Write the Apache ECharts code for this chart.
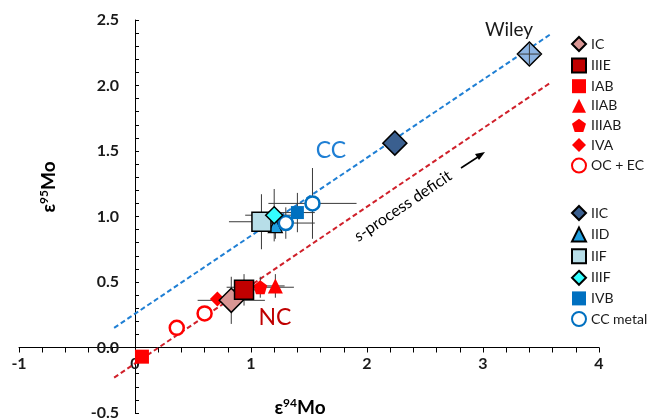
<!DOCTYPE html>
<html><head><meta charset="utf-8">
<script src="https://cdn.jsdelivr.net/npm/echarts@6/dist/echarts.min.js"></script>
<style>html,body{margin:0;padding:0;background:#fff}#c{width:657px;height:420px}</style>
</head><body><div id="c"></div>
<script>
// ---- data (ε94Mo, ε95Mo) ----
const icData = [[0.83, 0.36]];
const iiieData = [[0.94, 0.44]];
const iabData = [[0.06, -0.07]];
const iiabData = [[1.21, 0.47]];
const iiiabData = [[1.08, 0.46]];
const ivaData = [[0.71, 0.37]];
const ocecData = [[0.36, 0.15], [0.60, 0.26]];
const iicData = [[2.24, 1.56]];
const iidData = [[1.21, 0.93]];
const iifData = [[1.09, 0.96]];
const iiifData = [[1.20, 1.01]];
const ivbData = [[1.40, 1.03]];
const ccMetalData = [[1.30, 0.95], [1.53, 1.10]];
const wileyData = [[3.40, 2.24]];
// error bars: [x, y, xErr, yErr]
const errorBars = [
  [0.83, 0.36, 0.29, 0.18],
  [0.94, 0.44, 0.10, 0.12],
  [1.08, 0.46, 0.29, 0.08],
  [1.21, 0.47, 0.08, 0.09],
  [1.09, 0.96, 0.28, 0.21],
  [1.20, 1.01, 0.25, 0.20],
  [1.21, 0.93, 0.10, 0.10],
  [1.30, 0.95, 0.25, 0.12],
  [1.40, 1.03, 0.15, 0.15],
  [1.53, 1.10, 0.38, 0.27]
];
const wileyErr = [[3.40, 2.24, 0.10, 0.08]];
// trend lines
const ccLine = [[-0.18, 0.15], [3.58, 2.39]];
const ncLine = [[-0.18, -0.23], [3.58, 2.02]];
const ncNames = ['IC', 'IIIE', 'IAB', 'IIAB', 'IIIAB', 'IVA', 'OC + EC'];
const ccNames = ['IIC', 'IID', 'IIF', 'IIIF', 'IVB', 'CC metal'];

const FONT = 'Lato';
const pentagon = 'path://M0,-1 L0.951,-0.309 L0.588,0.809 L-0.588,0.809 L-0.951,-0.309 Z';

function sc(name, data, symbol, size, color, border, bw, extra) {
  return Object.assign({
    type: 'scatter', name: name, data: data, symbol: symbol, symbolSize: size,
    itemStyle: { color: color, borderColor: border || color, borderWidth: border ? (bw || 1.5) : 0, opacity: 1 },
    emphasis: { disabled: true }, z: 3
  }, extra || {});
}
function errRender(params, api) {
  const x = api.value(0), y = api.value(1), ex = api.value(2), ey = api.value(3);
  const l = api.coord([x - ex, y]), r = api.coord([x + ex, y]);
  const t = api.coord([x, y + ey]), b = api.coord([x, y - ey]);
  const st = { stroke: '#3a3a3a', lineWidth: 1 };
  return { type: 'group', children: [
    { type: 'line', shape: { x1: l[0], y1: l[1], x2: r[0], y2: r[1] }, style: st },
    { type: 'line', shape: { x1: t[0], y1: t[1], x2: b[0], y2: b[1] }, style: st }
  ]};
}

const chart = echarts.init(document.getElementById('c'), null, { renderer: 'canvas' });
const axisLabelStyle = { fontFamily: FONT, fontWeight: 'bold', fontSize: 16, color: '#1a1a1a' };
const legendBase = {
  orient: 'vertical', left: 566, itemWidth: 14, itemHeight: 14, itemGap: 5.6,
  selectedMode: false, textStyle: { fontFamily: FONT, fontSize: 14, color: '#1a1a1a' }
};
chart.setOption({
  animation: false,
  backgroundColor: '#fff',
  grid: { left: 19, right: 58, top: 20, bottom: 7, containLabel: false, outerBoundsMode: 'none' },
  xAxis: {
    type: 'value', min: -1, max: 4, interval: 1, position: 'bottom', offset: 0,
    axisLine: { onZero: false, lineStyle: { color: '#000', width: 1 } },
    axisTick: { show: true, inside: false, length: 5, lineStyle: { color: '#000' } },
    minorTick: { show: true, splitNumber: 5, length: 5, lineStyle: { color: '#000' } },
    splitLine: { show: false },
    axisLabel: Object.assign({ margin: 8 }, axisLabelStyle)
  },
  yAxis: {
    type: 'value', min: -0.5, max: 2.5, interval: 0.5, position: 'left', offset: 0,
    axisLine: { onZero: false, lineStyle: { color: '#000', width: 1 } },
    axisTick: { show: true, inside: true, length: 4, lineStyle: { color: '#000' } },
    minorTick: { show: true, splitNumber: 5, length: 4, lineStyle: { color: '#000' } },
    splitLine: { show: false },
    axisLabel: Object.assign({ margin: 16, formatter: v => v.toFixed(1) }, axisLabelStyle)
  },
  legend: [
    Object.assign({ top: 31, data: ncNames }, legendBase),
    Object.assign({ top: 200, data: ccNames }, legendBase)
  ],
  series: [
    { type: 'line', data: ccLine, showSymbol: false, symbol: 'none', silent: true, z: 1,
      lineStyle: { color: '#1f7fd4', width: 2, type: [5, 3] } },
    { type: 'line', data: ncLine, showSymbol: false, symbol: 'none', silent: true, z: 1,
      lineStyle: { color: '#d0202a', width: 2, type: [5, 3] } },
    { type: 'custom', data: errorBars, renderItem: errRender, encode: { x: 0, y: 1 }, z: 2, silent: true },
    sc('IAB', iabData, 'rect', 14, '#ff0000'),
    sc('OC + EC', ocecData, 'circle', 14, '#ffffff', '#ff0000', 2.5),
    sc('IVA', ivaData, 'diamond', 15, '#ff0000'),
    sc('IIAB', iiabData, 'triangle', 15, '#ff0000'),
    sc('IIIAB', iiiabData, pentagon, 14, '#ff0000'),
    sc('IC', icData, 'diamond', 24, '#d99694', '#000', 1.5),
    sc('IIIE', iiieData, 'rect', 19, '#c00000', '#000', 1.5),
    sc('IVB', ivbData, 'rect', 13, '#0070c0'),
    sc('IID', iidData, 'triangle', 14, '#1f9fe0', '#000', 1.2),
    sc('CC metal', ccMetalData, 'circle', 14, '#ffffff', '#0070c0', 2.5),
    sc('IIF', iifData, 'rect', 19, '#b7dee8', '#000', 1.5),
    sc('IIIF', iiifData, 'diamond', 17, '#33ffff', '#000', 1.5),
    sc('IIC', iicData, 'diamond', 24, '#3a5f8f', '#000', 1.5),
    sc('Wiley', wileyData, 'diamond', 24, '#8db4e2', '#000', 1.5),
    { type: 'custom', data: wileyErr, renderItem: errRender, encode: { x: 0, y: 1 }, z: 4, silent: true }
  ],
  graphic: [
    { type: 'text', x: 49, y: 187, rotation: Math.PI / 2, z: 10,
      style: { text: '{a|ε}{s|95}{a|Mo}', align: 'center', verticalAlign: 'middle',
        rich: { a: { fontFamily: FONT, fontWeight: 'bold', fontSize: 19, color: '#000', lineHeight: 22 },
                s: { fontFamily: FONT, fontWeight: 'bold', fontSize: 12, color: '#000', verticalAlign: 'top', lineHeight: 22 } } } },
    { type: 'text', x: 300, y: 408, z: 10,
      style: { text: '{a|ε}{s|94}{a|Mo}', align: 'center', verticalAlign: 'middle',
        rich: { a: { fontFamily: FONT, fontWeight: 'bold', fontSize: 19, color: '#000', lineHeight: 22 },
                s: { fontFamily: FONT, fontWeight: 'bold', fontSize: 12, color: '#000', verticalAlign: 'top', lineHeight: 22 } } } },
    { type: 'text', x: 509, y: 30, z: 10,
      style: { text: 'Wiley', align: 'center', verticalAlign: 'middle', fontFamily: FONT, fontSize: 19, fill: '#1a1a1a' } },
    { type: 'text', x: 331, y: 151, z: 10,
      style: { text: 'CC', align: 'center', verticalAlign: 'middle', fontFamily: FONT, fontSize: 23, fill: '#1f7fd4' } },
    { type: 'text', x: 275, y: 318, z: 10,
      style: { text: 'NC', align: 'center', verticalAlign: 'middle', fontFamily: FONT, fontSize: 23, fill: '#c00000' } },
    { type: 'text', x: 403, y: 206, rotation: 34 * Math.PI / 180, z: 10,
      style: { text: '{i|s}{n|-process deficit}', align: 'center', verticalAlign: 'middle',
        rich: { i: { fontFamily: FONT, fontStyle: 'italic', fontSize: 16, color: '#1a1a1a' },
                n: { fontFamily: FONT, fontSize: 16, color: '#1a1a1a' } } } },
    { type: 'line', z: 10, shape: { x1: 461, y1: 168, x2: 481, y2: 155 }, style: { stroke: '#000', lineWidth: 1.6 } },
    { type: 'polygon', z: 10, shape: { points: [[485, 152], [475, 154], [479, 160]] }, style: { fill: '#000' } }
  ]
});
// place the axes on the zero lines (line, ticks and labels together)
const zero = chart.convertToPixel({ gridIndex: 0 }, [0, 0]);
const rect = chart.getModel().getComponent('grid').coordinateSystem.getRect();
chart.setOption({
  xAxis: { offset: -(rect.y + rect.height - zero[1]) },
  yAxis: { offset: -(zero[0] - rect.x) }
});
</script></body></html>
